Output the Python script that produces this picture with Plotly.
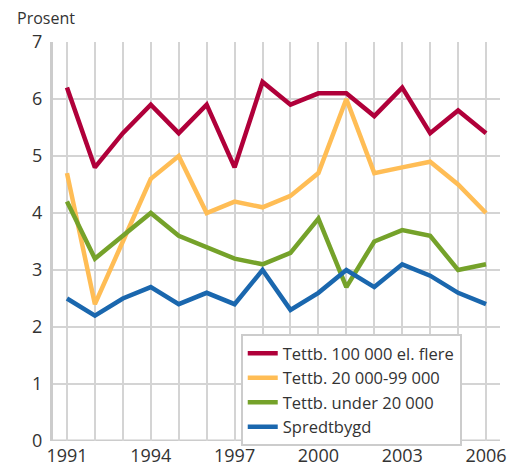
import plotly.graph_objects as go

years = list(range(1991, 2007))
names = ["Tettb. 100 000 el. flere", "Tettb. 20 000-99 000", "Tettb. under 20 000", "Spredtbygd"]
tettb_100k = [6.2, 4.8, 5.4, 5.9, 5.4, 5.9, 4.8, 6.3, 5.9, 6.1, 6.1, 5.7, 6.2, 5.4, 5.8, 5.4]
tettb_20k_99k = [4.7, 2.4, 3.5, 4.6, 5.0, 4.0, 4.2, 4.1, 4.3, 4.7, 6.0, 4.7, 4.8, 4.9, 4.5, 4.0]
tettb_under_20k = [4.2, 3.2, 3.6, 4.0, 3.6, 3.4, 3.2, 3.1, 3.3, 3.9, 2.7, 3.5, 3.7, 3.6, 3.0, 3.1]
spredtbygd = [2.5, 2.2, 2.5, 2.7, 2.4, 2.6, 2.4, 3.0, 2.3, 2.6, 3.0, 2.7, 3.1, 2.9, 2.6, 2.4]
colors = ["#b0003a", "#ffbd55", "#75a22a", "#1a67ae"]
x_ticks = [1991, 1994, 1997, 2000, 2003, 2006]
y_ticks = [0, 1, 2, 3, 4, 5, 6, 7]

fig = go.Figure()
for name, vals, col in zip(names, [tettb_100k, tettb_20k_99k, tettb_under_20k, spredtbygd], colors):
    fig.add_trace(go.Scatter(x=years, y=vals, mode="lines", name=name,
                             line=dict(color=col, width=4.5)))

tick_font = dict(family="Open Sans, sans-serif", size=18, color="#333333")
leg_font = dict(family="Open Sans, sans-serif", size=16.5, color="#333333")
fig.update_layout(
    width=517, height=467,
    margin=dict(l=53, r=17, t=42, b=26, autoexpand=False),
    plot_bgcolor="white", paper_bgcolor="white",
    font=leg_font,
    showlegend=True,
    legend=dict(x=0.42, y=0.268, xanchor="left", yanchor="top",
                bgcolor="white", bordercolor="#cccccc", borderwidth=2,
                font=leg_font, tracegroupgap=0, itemwidth=30),
    xaxis=dict(range=[1990.5, 2006.5], tickmode="array", tickvals=x_ticks,
               ticktext=[str(t) for t in x_ticks], automargin=False,
               showgrid=False, zeroline=False,
               showline=False, ticks="", tickfont=tick_font, ticklabelstandoff=2),
    yaxis=dict(range=[0, 7], tickmode="array", tickvals=y_ticks, automargin=False,
               showgrid=True, gridcolor="#d4d4d4", gridwidth=2,
               zeroline=False, showline=True, linecolor="#cccccc", linewidth=3,
               ticks="", tickfont=tick_font, ticklabelstandoff=4),
    annotations=[dict(text="Prosent", xref="paper", yref="paper",
                      x=-0.086, y=1.06, xanchor="left", yanchor="middle",
                      showarrow=False, font=dict(family="Open Sans, sans-serif", size=16, color="#333333"))],
)
fig.update_layout(xaxis2=dict(range=[1990.5, 2006.5], overlaying="x", tickmode="array",
                              tickvals=years, showticklabels=False, showgrid=True,
                              gridcolor="#d4d4d4", gridwidth=2, zeroline=False,
                              showline=False, ticks="", automargin=False))
fig.add_trace(go.Scatter(x=[years[0]], y=[None], xaxis="x2", showlegend=False,
                         hoverinfo="skip"))
fig.add_shape(type="line", xref="paper", yref="y", x0=0, x1=1, y0=0, y1=0,
              line=dict(color="#cccccc", width=3), layer="below")
fig.write_html("out.html", config={"displayModeBar": False},
               post_script="document.body.style.margin='0';")
